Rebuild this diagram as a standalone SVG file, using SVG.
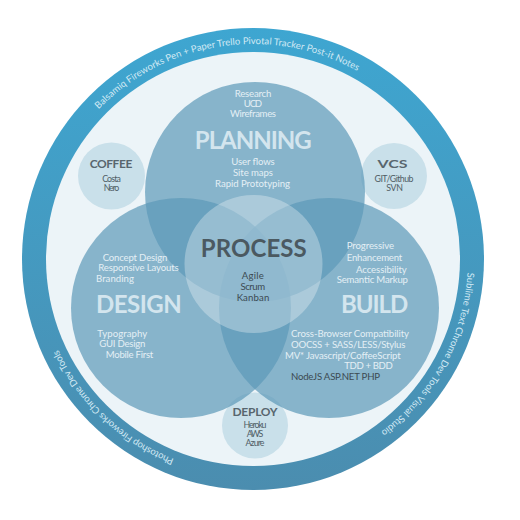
<svg xmlns="http://www.w3.org/2000/svg" xmlns:xlink="http://www.w3.org/1999/xlink" width="520" height="520" viewBox="0 0 520 520">
<defs>
<linearGradient id="ringGrad" x1="0" y1="0" x2="0" y2="1">
<stop offset="0" stop-color="#3ea6d1"/>
<stop offset="1" stop-color="#4b8daf"/>
</linearGradient>
<path id="ringPath" d="M 468 259 A 215 215 0 1 1 38 259 A 215 215 0 1 1 468 259"/>
<style>
text{font-family:Lato,"Open Sans","Liberation Sans",sans-serif}
.venn{fill:#5d99b8;fill-opacity:.7}
.small{fill:#c9e0ea}
.ring{fill:#d2e9f4;font-size:9.5px}
.lt{fill:#e4eff5;font-size:9.6px}
.hd{fill:#d3e5ee;font-size:24px;font-weight:700}
.dk{fill:#3c4a52;font-size:9.6px}
.sh{fill:#58666e;font-size:12px;font-weight:700}
.st{fill:#4f5d65;font-size:8.8px}
.c{text-anchor:middle}
</style>
</defs>
<rect width="520" height="520" fill="#ffffff"/>
<g id="ring">
<circle cx="253" cy="259" r="231" fill="url(#ringGrad)"/>
<circle cx="253" cy="259" r="207" fill="#ecf4f8"/>
<text class="ring"><textPath xlink:href="#ringPath" href="#ringPath" startOffset="840.6" textLength="281">Balsamiq  Fireworks  Pen + Paper  Trello  Pivotal Tracker  Post-it Notes</textPath></text>
<text class="ring"><textPath xlink:href="#ringPath" href="#ringPath" startOffset="13.5" textLength="187">Sublime Text  Chrome Dev Tools  Visual Studio</textPath></text>
<text class="ring"><textPath xlink:href="#ringPath" href="#ringPath" startOffset="418.4" textLength="163">Photoshop  Fireworks  Chrome Dev Tools</textPath></text>
</g>
<g id="coffee">
<circle class="small" cx="111.5" cy="176" r="33.5"/>
<text class="sh c" x="111" y="168" textLength="42.7">COFFEE</text>
<text class="st c" x="111.5" y="182" textLength="18.7">Costa</text>
<text class="st c" x="111.5" y="191" textLength="15.7">Nero</text>
</g>
<g id="vcs">
<circle class="small" cx="394" cy="176" r="33"/>
<text class="sh c" x="392.5" y="168" font-size="13" textLength="30" lengthAdjust="spacingAndGlyphs">VCS</text>
<text class="st c" x="394" y="182" textLength="39">GIT/Github</text>
<text class="st c" x="394.5" y="191" textLength="16.7">SVN</text>
</g>
<g id="deploy">
<circle class="small" cx="255" cy="425.5" r="33"/>
<text class="sh c" x="255" y="416" textLength="45">DEPLOY</text>
<text class="st c" x="255" y="427.7" textLength="23">Heroku</text>
<text class="st c" x="255" y="436.7" textLength="16.7">AWS</text>
<text class="st c" x="255" y="445.7" textLength="19">Azure</text>
</g>
<g id="planning">
<circle class="venn" cx="255" cy="192" r="110"/>
</g>
<g id="design">
<circle class="venn" cx="181" cy="308" r="110"/>
</g>
<g id="build">
<circle class="venn" cx="329" cy="308" r="110"/>
</g>
<g id="process">
<circle cx="253.5" cy="264" r="69" fill="#ffffff" fill-opacity=".3"/>
<text class="c" x="253.7" y="256.7" font-size="24" font-weight="700" fill="#4b5961" textLength="106">PROCESS</text>
<text class="dk c" x="252.8" y="279.3" textLength="22.3">Agile</text>
<text class="dk c" x="252.8" y="290" textLength="24.7">Scrum</text>
<text class="dk c" x="253" y="300.7" textLength="32.7">Kanban</text>
</g>
<g id="planning-text">
<text class="lt c" x="253" y="96.7" textLength="36.7">Research</text>
<text class="lt c" x="253" y="106.7" textLength="18.3">UCD</text>
<text class="lt c" x="253" y="117.3" textLength="46">Wireframes</text>
<text class="hd c" x="253.3" y="149" textLength="117">PLANNING</text>
<text class="lt c" x="253" y="165" textLength="43.3">User flows</text>
<text class="lt c" x="253" y="176" textLength="40">Site maps</text>
<text class="lt c" x="252.5" y="187.3" textLength="75">Rapid Prototyping</text>
</g>
<g id="design-text">
<text class="lt" x="102.7" y="260.7" textLength="64.6">Concept Design</text>
<text class="lt" x="98.3" y="271.3" textLength="80.4">Responsive Layouts</text>
<text class="lt" x="96" y="282" textLength="38">Branding</text>
<text class="hd" x="96" y="313.3" textLength="85.7">DESIGN</text>
<text class="lt" x="97.3" y="336.5" textLength="50">Typography</text>
<text class="lt" x="99.3" y="347.3" textLength="46">GUI Design</text>
<text class="lt" x="105.7" y="357.7" textLength="47.6">Mobile First</text>
</g>
<g id="build-text">
<text class="lt" x="346.7" y="249.3" textLength="47.3">Progressive</text>
<text class="lt" x="346.7" y="260.7" textLength="55.6">Enhancement</text>
<text class="lt" x="356" y="272.7" textLength="50.7">Accessibility</text>
<text class="lt" x="336.7" y="283.3" textLength="71.3">Semantic Markup</text>
<text class="hd" x="341" y="312.7" textLength="67.3">BUILD</text>
<text class="lt" x="291" y="336.7" textLength="118">Cross-Browser Compatibility</text>
<text class="lt" x="291" y="347.7" textLength="114.3">OOCSS + SASS/LESS/Stylus</text>
<text class="lt" x="285" y="359.3" textLength="115.7">MV* Javascript/CoffeeScript</text>
<text class="lt" x="344.3" y="369.3" textLength="48.4">TDD + BDD</text>
<text class="dk" x="291" y="380" textLength="89" fill="#4a5860">NodeJS  ASP.NET  PHP</text>
</g>
</svg>
